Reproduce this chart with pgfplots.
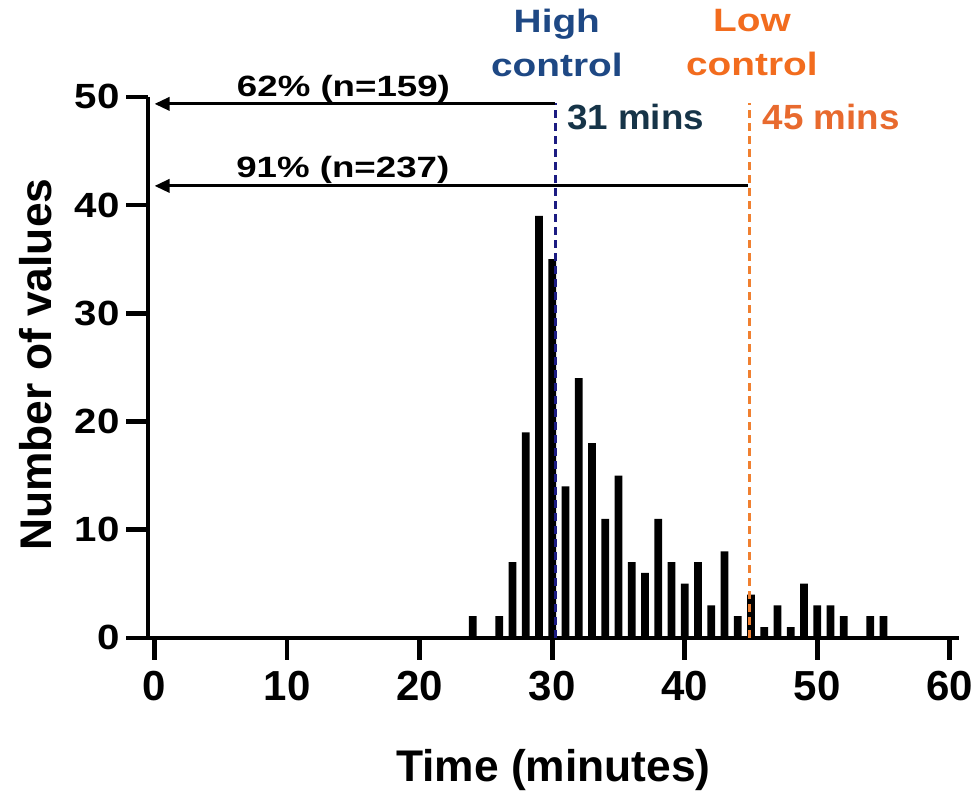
\documentclass[border=0pt]{standalone}
\usepackage{fontspec}
\setmainfont{Liberation Sans}
\usepackage{pgfplots}
\pgfplotsset{compat=1.18}
\usetikzlibrary{arrows.meta}

\definecolor{hiblue}{RGB}{30,72,132}
\definecolor{hinavy}{RGB}{28,28,130}
\definecolor{hislate}{RGB}{22,52,72}
\definecolor{loorange}{RGB}{242,108,30}
\definecolor{lodash}{RGB}{240,128,48}
\definecolor{lotext}{RGB}{232,106,46}

\begin{document}
\begin{tikzpicture}

\begin{axis}[
  width=243.3pt,
  height=162.3pt,
  scale only axis,
  clip=false,
  xmin=-0.5, xmax=60.7,
  ymin=0, ymax=50,
  axis x line=bottom,
  axis y line=left,
  axis line style={line width=1.4pt, -},
  tick style={line width=1.4pt, black},
  major tick length=6.6pt,
  tick align=outside,
  xtick={0,10,...,60},
  ytick={0,10,...,50},
  /pgf/number format/assume math mode=true,
  xticklabel style={font=\fontsize{12.6}{14}\selectfont\bfseries, inner xsep=0pt},
  yticklabel style={font=\fontsize{10.5}{12}\selectfont\bfseries, xscale=1.15, inner xsep=1.5pt},
  xlabel={Time (minutes)},
  ylabel={Number of values},
  xlabel style={font=\fontsize{13.3}{15}\selectfont\bfseries, at={(axis description cs:0.5,-0.245)}, anchor=center},
  ylabel style={font=\fontsize{13.3}{15}\selectfont\bfseries, at={(axis description cs:-0.139,0.505)}, anchor=center},
]
% histogram counts per minute
\addplot[ybar, bar width=0.58, fill=black, draw=none] coordinates {
  (24,2) (26,2) (27,7) (28,19) (29,39) (30,35) (31,14) (32,24) (33,18)
  (34,11) (35,15) (36,7) (37,6) (38,11) (39,7) (40,5) (41,7) (42,3)
  (43,8) (44,2) (45,4) (46,1) (47,3) (48,1) (49,5) (50,3) (51,3)
  (52,2) (54,2) (55,2)};

% control limits
\draw[hinavy, line width=0.75pt, dash pattern=on 2.4pt off 1.5pt] (axis cs:30.24,0) -- (axis cs:30.24,49.4);
\draw[lodash, line width=0.75pt, dash pattern=on 2.4pt off 1.5pt] (axis cs:44.87,0) -- (axis cs:44.87,49.4);

\draw[line width=0.85pt, -{Triangle[length=4.5pt, width=4pt]}] (axis cs:30.24,49.35) -- (axis cs:0,49.35);
\draw[line width=0.85pt, -{Triangle[length=4.5pt, width=4pt]}] (axis cs:44.75,41.77) -- (axis cs:0,41.77);

\node[anchor=base, inner sep=0, xscale=1.25, font=\fontsize{8.8}{10}\selectfont\bfseries] at (axis cs:14.25,50.0) {62\% (n=159)};
\node[anchor=base, inner sep=0, xscale=1.25, font=\fontsize{8.8}{10}\selectfont\bfseries] at (axis cs:14.2,42.5) {91\% (n=237)};

\node[align=center, inner sep=0, xscale=1.2, text=hiblue, font=\fontsize{9.7}{13.2}\selectfont\bfseries] at (axis cs:30.35,55.0) {High\\control};
\node[align=center, inner sep=0, xscale=1.2, text=loorange, font=\fontsize{9.7}{13.2}\selectfont\bfseries] at (axis cs:45.07,55.0) {Low\\control};

\node[anchor=west, inner sep=0, xscale=1.05, text=hislate, font=\fontsize{10.5}{12}\selectfont\bfseries] at (axis cs:31.07,48.1) {31 mins};
\node[anchor=west, inner sep=0, xscale=1.05, text=lotext, font=\fontsize{10.5}{12}\selectfont\bfseries] at (axis cs:45.85,48.1) {45 mins};

% frame matching the reference canvas
\path (axis description cs:-0.1825,-0.2847) rectangle (axis description cs:1.0197,1.179);
\end{axis}

\end{tikzpicture}
\end{document}
